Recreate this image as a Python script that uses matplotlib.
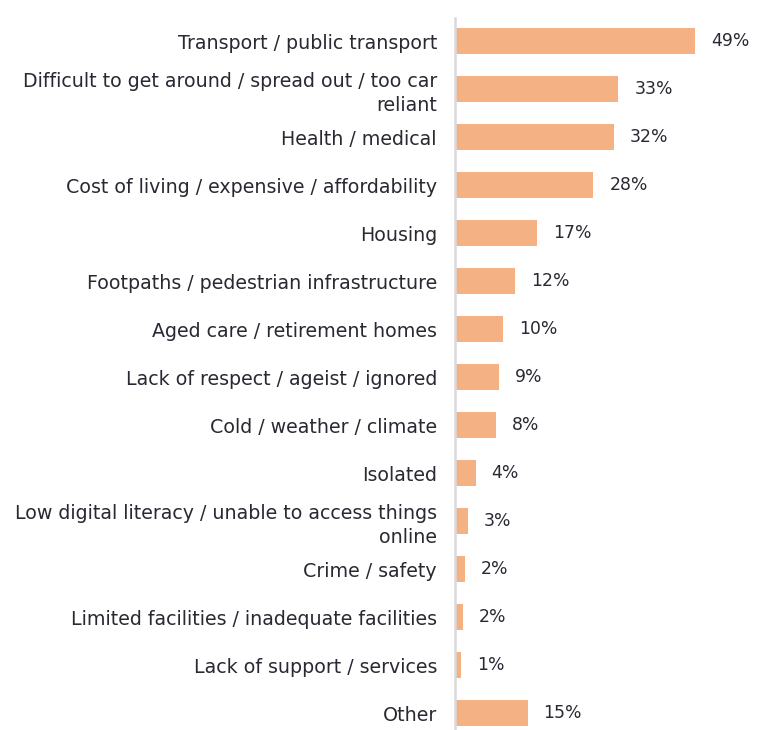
import matplotlib
matplotlib.use("Agg")
import matplotlib.pyplot as plt

categories = [
    "Transport / public transport",
    "Difficult to get around / spread out / too car\nreliant",
    "Health / medical",
    "Cost of living / expensive / affordability",
    "Housing",
    "Footpaths / pedestrian infrastructure",
    "Aged care / retirement homes",
    "Lack of respect / ageist / ignored",
    "Cold / weather / climate",
    "Isolated",
    "Low digital literacy / unable to access things\nonline",
    "Crime / safety",
    "Limited facilities / inadequate facilities",
    "Lack of support / services",
    "Other",
]
values = [49.0, 33.3, 32.4, 28.2, 16.7, 12.2, 9.8, 9.0, 8.4, 4.2, 2.6, 2.0, 1.6, 1.2, 14.8]
value_labels = ["49%", "33%", "32%", "28%", "17%", "12%", "10%", "9%", "8%", "4%", "3%", "2%", "2%", "1%", "15%"]

bar_color = "#F4B183"
text_color = "#2B2833"

plt.rcParams['font.family'] = ['DejaVu Sans']

fig = plt.figure(figsize=(7.69, 7.30), dpi=100)
ax = fig.add_axes([455/769, 0.0, 1 - 455/769, 1 - 18/730])

y = list(range(len(categories)))
ax.barh(y, values, height=0.54, color=bar_color, edgecolor="none")

for yi, v, lab in zip(y, values, value_labels):
    ax.annotate(lab, xy=(v, yi), xytext=(11.5, 0), textcoords="offset points",
                va="center", ha="left", fontsize=12.4, color=text_color)

ax.set_yticks(y)
ax.set_yticklabels(categories, fontsize=13.7, color=text_color, linespacing=1.3)
ax.tick_params(axis="y", length=0, pad=13)
ax.set_ylim(14.35, -0.48)
ax.set_xlim(0, 64)
ax.set_xticks([])

for s in ["top", "right", "bottom"]:
    ax.spines[s].set_visible(False)
ax.spines["left"].set_color("#D9D9D9")
ax.spines["left"].set_linewidth(1.8)

fig.savefig("out.png", dpi=100)
